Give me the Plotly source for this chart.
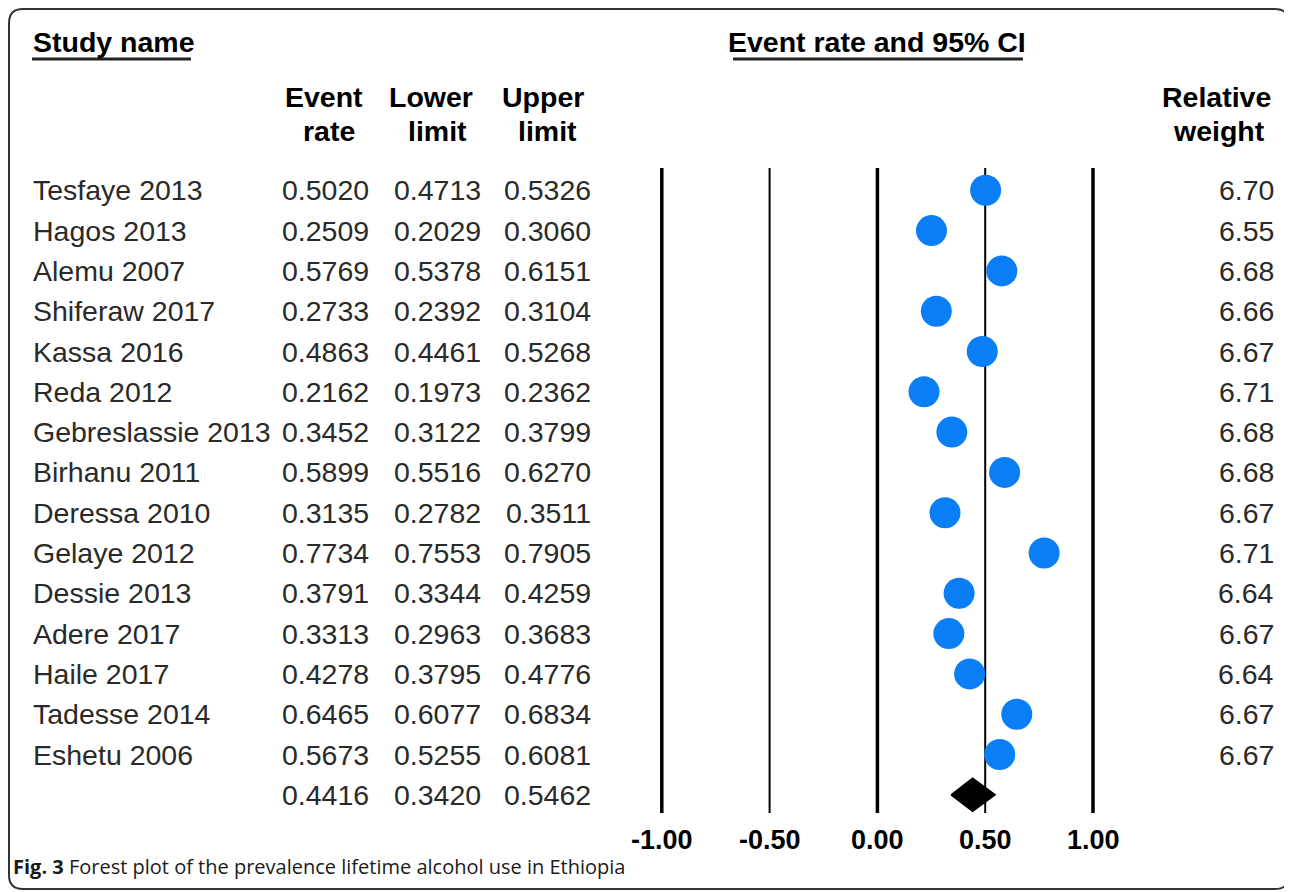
import plotly.graph_objects as go

# ---------------- data ----------------
studies = ["Tesfaye 2013", "Hagos 2013", "Alemu 2007", "Shiferaw 2017", "Kassa 2016",
           "Reda 2012", "Gebreslassie 2013", "Birhanu 2011", "Deressa 2010", "Gelaye 2012",
           "Dessie 2013", "Adere 2017", "Haile 2017", "Tadesse 2014", "Eshetu 2006"]
event_rate = [0.5020, 0.2509, 0.5769, 0.2733, 0.4863, 0.2162, 0.3452, 0.5899, 0.3135,
              0.7734, 0.3791, 0.3313, 0.4278, 0.6465, 0.5673]
lower_limit = [0.4713, 0.2029, 0.5378, 0.2392, 0.4461, 0.1973, 0.3122, 0.5516, 0.2782,
               0.7553, 0.3344, 0.2963, 0.3795, 0.6077, 0.5255]
upper_limit = [0.5326, 0.3060, 0.6151, 0.3104, 0.5268, 0.2362, 0.3799, 0.6270, 0.3511,
               0.7905, 0.4259, 0.3683, 0.4776, 0.6834, 0.6081]
relative_weight = [6.70, 6.55, 6.68, 6.66, 6.67, 6.71, 6.68, 6.68, 6.67, 6.71,
                   6.64, 6.67, 6.64, 6.67, 6.67]
summary_rate = 0.4416
summary_lower = 0.3420
summary_upper = 0.5462
tick_values = [-1.0, -0.5, 0.0, 0.5, 1.0]
tick_labels = ["-1.00", "-0.50", "0.00", "0.50", "1.00"]
caption_bold = "Fig. 3"
caption_text = "Forest plot of the prevalence lifetime alcohol use in Ethiopia"

# ---------------- layout geometry ----------------
W, H = 1292, 892
OFF = 8                              # page body margin offset
X0_PX, X_SCALE = 877.4, 215.6        # screen pixel of value 0, pixels per unit
Y0_PX, ROW_PX = 190.3, 40.3          # screen pixel of first row, pixels per row

def px_x(p):
    return (p - OFF) / W

def px_y(p):
    return 1 - (p - OFF) / H

def yval(p):
    return (p - Y0_PX) / ROW_PX

x_range = [-(X0_PX - OFF) / X_SCALE, (W - (X0_PX - OFF)) / X_SCALE]
y_range = [(H - (Y0_PX - OFF)) / ROW_PX, -(Y0_PX - OFF) / ROW_PX]

FONT = "Liberation Sans, Arial, sans-serif"
TXT = "#2a2a2a"
BLUE = "#0a7ef5"

n = len(studies)
rows = list(range(n))
sum_row = n

fig = go.Figure()

# reference lines
shapes = []
for v in tick_values:
    thick = 3.5 if v in (-1.0, 0.0, 1.0) else 2.0
    shapes.append(dict(type="line", xref="x", yref="y", x0=v, x1=v,
                       y0=yval(168), y1=yval(813),
                       line=dict(color="black", width=thick), layer="below"))

# study markers (CI as error bars)
fig.add_trace(go.Scatter(
    x=event_rate, y=rows, mode="markers",
    marker=dict(symbol="circle", size=31, color=BLUE, line=dict(width=0)),
    error_x=dict(type="data", symmetric=False,
                 array=[u - r for u, r in zip(upper_limit, event_rate)],
                 arrayminus=[r - l for r, l in zip(event_rate, lower_limit)],
                 color="black", thickness=1, width=0),
    showlegend=False, hoverinfo="skip"))

# summary diamond
dh = 0.41
fig.add_trace(go.Scatter(
    x=[summary_lower, summary_rate, summary_upper, summary_rate, summary_lower],
    y=[sum_row, sum_row - dh, sum_row, sum_row + dh, sum_row],
    mode="lines", fill="toself", fillcolor="black",
    line=dict(color="black", width=1.5), showlegend=False, hoverinfo="skip"))

ann = []

def add_text(text, x_px, y_px, anchor="left", size=28.5, color=TXT, bold=False, font=FONT):
    t = f"<b>{text}</b>" if bold else text
    ann.append(dict(text=t, x=px_x(x_px), y=px_y(y_px), xref="paper", yref="paper",
                    xanchor=anchor, yanchor="middle", showarrow=False,
                    font=dict(family=font, size=size, color=color)))

# table rows
for i in rows:
    yp = Y0_PX + ROW_PX * i
    add_text(studies[i], 31, yp, "left")
    add_text(f"{event_rate[i]:.4f}", 371, yp, "right")
    add_text(f"{lower_limit[i]:.4f}", 483, yp, "right")
    add_text(f"{upper_limit[i]:.4f}", 593, yp, "right")
    add_text(f"{relative_weight[i]:.2f}", 1276, yp, "right")

yp = Y0_PX + ROW_PX * sum_row
add_text(f"{summary_rate:.4f}", 371, yp, "right")
add_text(f"{summary_lower:.4f}", 483, yp, "right")
add_text(f"{summary_upper:.4f}", 593, yp, "right")

# headers
add_text("Study name", 31, 42, "left", color="black", bold=True)
add_text("Event rate and 95% CI", 726, 42, "left", color="black", bold=True)
add_text("Event", 324, 97, "center", color="black", bold=True)
add_text("rate", 329, 131, "center", color="black", bold=True)
add_text("Lower", 431, 97, "center", color="black", bold=True)
add_text("limit", 437, 131, "center", color="black", bold=True)
add_text("Upper", 543, 97, "center", color="black", bold=True)
add_text("limit", 547, 131, "center", color="black", bold=True)
add_text("Relative", 1216, 97, "center", color="black", bold=True)
add_text("weight", 1219, 131, "center", color="black", bold=True)

# underlines
shapes.append(dict(type="line", xref="paper", yref="paper",
                   x0=px_x(32), x1=px_x(191), y0=px_y(59), y1=px_y(59),
                   line=dict(color="#222", width=3)))
shapes.append(dict(type="line", xref="paper", yref="paper",
                   x0=px_x(733), x1=px_x(1023), y0=px_y(59), y1=px_y(59),
                   line=dict(color="#222", width=3)))

# axis tick labels (positioned by the x scale)
for v, lab in zip(tick_values, tick_labels):
    ann.append(dict(text=f"<b>{lab}</b>", x=v, y=px_y(840), xref="x", yref="paper",
                    xanchor="center", yanchor="middle", showarrow=False,
                    font=dict(family=FONT, size=27, color="black")))

# caption
ann.append(dict(text=f"<b>{caption_bold}</b> {caption_text}", x=px_x(11), y=px_y(866),
                xref="paper", yref="paper", xanchor="left", yanchor="middle",
                showarrow=False, font=dict(family="Open Sans, sans-serif", size=20, color="#1a1a1a")))

# rounded frame
l, t, r, b, rad = 9, 9, 1289, 889, 14
path = (f"M {px_x(l+rad)},{px_y(t)} L {px_x(r-rad)},{px_y(t)} "
        f"Q {px_x(r)},{px_y(t)} {px_x(r)},{px_y(t+rad)} "
        f"L {px_x(r)},{px_y(b-rad)} Q {px_x(r)},{px_y(b)} {px_x(r-rad)},{px_y(b)} "
        f"L {px_x(l+rad)},{px_y(b)} Q {px_x(l)},{px_y(b)} {px_x(l)},{px_y(b-rad)} "
        f"L {px_x(l)},{px_y(t+rad)} Q {px_x(l)},{px_y(t)} {px_x(l+rad)},{px_y(t)} Z")
shapes.append(dict(type="path", xref="paper", yref="paper", path=path,
                   line=dict(color="#333", width=2)))

fig.update_layout(
    width=W, height=H, margin=dict(l=0, r=0, t=0, b=0),
    paper_bgcolor="white", plot_bgcolor="white",
    xaxis=dict(range=x_range, visible=False, fixedrange=True),
    yaxis=dict(range=y_range, visible=False, fixedrange=True),
    shapes=shapes, annotations=ann, showlegend=False,
)

fig.write_html("out.html")
